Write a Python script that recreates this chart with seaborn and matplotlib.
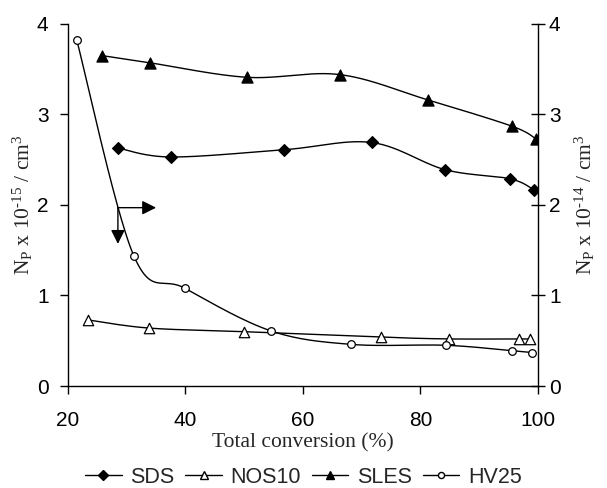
import numpy as np
import pandas as pd
import seaborn as sns
import matplotlib.pyplot as plt
from matplotlib.lines import Line2D

# Particle number vs total conversion for four surfactants
sds_x = [28.5, 37.5, 56.8, 71.7, 84.2, 95.2, 99.3]
sds_y = [2.63, 2.53, 2.61, 2.69, 2.39, 2.29, 2.17]

nos10_x = [23.4, 33.8, 50.0, 73.3, 84.9, 96.8, 98.6]
nos10_y = [0.73, 0.64, 0.60, 0.54, 0.52, 0.52, 0.52]

sles_x = [25.8, 34.0, 50.5, 66.3, 81.3, 95.6, 99.7]
sles_y = [3.65, 3.57, 3.41, 3.44, 3.16, 2.87, 2.73]

hv25_x = [21.5, 31.2, 39.9, 54.5, 68.2, 84.3, 95.6, 99.0]
hv25_y = [3.82, 1.44, 1.08, 0.61, 0.46, 0.45, 0.39, 0.37]

series_names = ["SDS", "NOS10", "SLES", "HV25"]
x_ticks = [20, 40, 60, 80, 100]
y_ticks = [0, 1, 2, 3, 4]

sns.set_theme(style="white")
plt.rcParams["font.family"] = ["Liberation Sans", "DejaVu Sans"]
plt.rcParams["mathtext.fontset"] = "custom"
plt.rcParams["mathtext.rm"] = "Liberation Serif"
plt.rcParams["mathtext.it"] = "Liberation Serif:italic"
plt.rcParams["mathtext.bf"] = "Liberation Serif:bold"

rows = []
for name, xs, ys in zip(series_names,
                        [sds_x, nos10_x, sles_x, hv25_x],
                        [sds_y, nos10_y, sles_y, hv25_y]):
    for xv, yv in zip(xs, ys):
        rows.append({"conv": xv, "np": yv, "surf": name})
df = pd.DataFrame(rows)

styles = {
    "SDS": dict(marker="D", mfc="black", ms=6),
    "NOS10": dict(marker="^", mfc="white", ms=7.5),
    "SLES": dict(marker="^", mfc="black", ms=8),
    "HV25": dict(marker="o", mfc="white", ms=5.5),
}


def smooth(xs, ys, n=30):
    """Catmull-Rom curve through the given points (smoothed line style)."""
    p = np.column_stack([xs, ys]).astype(float)
    p = np.vstack([p[0], p, p[-1]])
    out = []
    for i in range(1, len(p) - 2):
        p0, p1, p2, p3 = p[i - 1], p[i], p[i + 1], p[i + 2]
        t = np.linspace(0, 1, n)[:, None]
        seg = 0.5 * ((2 * p1) + (-p0 + p2) * t
                     + (2 * p0 - 5 * p1 + 4 * p2 - p3) * t ** 2
                     + (-p0 + 3 * p1 - 3 * p2 + p3) * t ** 3)
        out.append(seg)
    c = np.vstack(out)
    return c[:, 0], c[:, 1]


fig = plt.figure(figsize=(6.07, 4.88), dpi=100)
ax = fig.add_axes([0.112, 0.209, 0.774, 0.742])

for name in series_names:
    sub = df[df.surf == name]
    sx, sy = smooth(sub.conv.values, sub.np.values)
    ax.plot(sx, sy, color="black", lw=1.0, zorder=2)
    st = styles[name]
    sns.scatterplot(data=sub, x="conv", y="np", ax=ax, marker=st["marker"],
                    s=st["ms"] ** 2, color=st["mfc"], edgecolor="black",
                    linewidth=0.9, zorder=3, legend=False)

# Arrows pointing to the right-hand axis and down to the left-hand one
ax.annotate("", xy=(35.0, 1.97), xytext=(28.5, 1.97),
            arrowprops=dict(arrowstyle="-|>,head_length=0.7,head_width=0.35",
                            color="black", lw=1.0, shrinkA=0, shrinkB=0))
ax.annotate("", xy=(28.5, 1.57), xytext=(28.5, 1.97),
            arrowprops=dict(arrowstyle="-|>,head_length=0.7,head_width=0.35",
                            color="black", lw=1.0, shrinkA=0, shrinkB=0))

ax.set_xlim(20, 100)
ax.set_ylim(0, 4)
ax.set_xticks(x_ticks)
ax.set_yticks(y_ticks)
ax.tick_params(axis="both", direction="out", length=6, width=1, colors="black",
               labelsize=15, bottom=True, left=True)
ax.tick_params(axis="x", pad=12)
ax.tick_params(axis="y", pad=8)
for s in ["left", "bottom"]:
    ax.spines[s].set_color("black")
    ax.spines[s].set_linewidth(1.0)
for s in ["top", "right"]:
    ax.spines[s].set_visible(False)

serif = ["Liberation Serif", "DejaVu Serif"]
ax.set_xlabel("Total conversion (%)", family=serif, fontsize=15.5, labelpad=2)
ax.set_ylabel("N$_\\mathrm{P}$ x 10$^{\\mathrm{\u2010}15}$ / cm$^{3}$",
              family=serif, fontsize=15.5, labelpad=1)

ax2 = ax.twinx()
ax2.set_ylim(0, 4)
ax2.set_yticks(y_ticks)
ax2.tick_params(axis="y", direction="inout", length=10, width=1, colors="black",
                labelsize=15, right=True, pad=3)
for s in ["top", "left", "bottom"]:
    ax2.spines[s].set_visible(False)
ax2.spines["right"].set_color("black")
ax2.spines["right"].set_linewidth(1.0)
ax2.set_ylabel("N$_\\mathrm{P}$ x 10$^{\\mathrm{\u2010}14}$ / cm$^{3}$",
               family=serif, fontsize=15.5, labelpad=9, rotation=90)

handles = [Line2D([], [], color="black", lw=1.0, marker=styles[n]["marker"],
                  markerfacecolor=styles[n]["mfc"], markeredgecolor="black",
                  markersize=styles[n]["ms"] * 0.8) for n in series_names]
fig.legend(handles, series_names, loc="center", bbox_to_anchor=(0.5, 0.022),
           ncol=4, frameon=False, fontsize=15.5, handlelength=1.7,
           handletextpad=0.4, columnspacing=0.5)

fig.savefig("out.png", dpi=100)
